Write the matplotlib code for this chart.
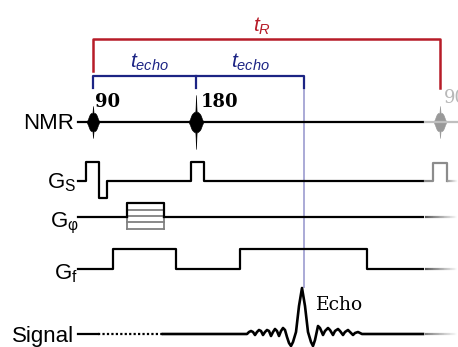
import numpy as np
import matplotlib.pyplot as plt
from matplotlib.collections import LineCollection

plt.rcParams['mathtext.fontset'] = 'custom'
plt.rcParams['mathtext.rm'] = 'Liberation Sans'
plt.rcParams['mathtext.it'] = 'Liberation Sans:italic'

# timing of the sequence (horizontal units)
t_start, t_stop = 78, 423
t_90, t_180, t_echo, t_rep = 93, 196, 304, 440

# channel baselines
y_nmr, y_gs, y_gp, y_gf, y_sig = 122, 181, 217, 269, 334

# RF pulse envelopes (offset from pulse centre, half amplitude)
rf90_dt = [-6, -5, -4, -3, -2, -1.2, -0.6, 0, 0.6, 1.2, 2, 3, 4, 5, 6]
rf90_amp = [1, 3, 6, 8, 9, 9, 9, 16, 9, 9, 9, 8, 6, 3, 1]
rf180_dt = [-7, -6, -5, -4, -3, -2, -1.2, -0.6, 0, 0.6, 1.2, 2, 3, 4, 5, 6, 7]
rf180_amp = [1, 3, 6, 8, 9, 10, 10, 11, 27, 11, 10, 10, 9, 8, 6, 3, 1]

# slice select gradient
gs_t = [t_start, 86, 86, 99, 99, 107, 107, 191, 191, 204, 204, t_stop]
gs_a = [0, 0, 19, 19, -17, -17, 0, 0, 19, 19, 0, 0]
# phase encode table
gp_t0, gp_t1 = 127, 164
gp_steps = [14, 7.5, 1, -5, -12]
# frequency (readout) gradient
gf_t = [t_start, 113, 113, 176, 176, 240, 240, 367, 367, t_stop]
gf_a = [0, 0, 20, 20, 0, 0, 20, 20, 0, 0]
# echo signal
echo_t = [t_start, 247, 249, 251, 253, 255, 257, 259, 261, 263, 265, 267, 269,
          271, 273, 275, 277, 279, 281, 283, 285, 287, 289, 291, 293, 296, 299,
          302, 305, 308, 311, 313, 315, 318, 320, 323, 325, 328, 330, 333, 335,
          338, 340, 343, 345, 348, 350, 353, 355, 358, 360, 362, t_stop]
echo_a = [0, 0, 2, 3, 2, -1, 2, 4, 3, -1, 2, 4, 3,
          -2, 2, 5, 3, -2, 3, 6, 4, -3, -9, -12, -8, 2, 28,
          46, 28, 2, -8, -12, -6, 8, 6, -1, 3, 6, 4, -1, 3,
          5, 3, -1, 2, 4, 2, -1, 1, 2, 1, 0, 0]
dotted_t = (98, 163)

red = '#b71c28'
blue = '#1c2484'
lav = '#aaaad6'
lw = 1.6

fig = plt.figure(figsize=(4.58, 3.47), dpi=100)
ax = fig.add_axes([0, 0, 1, 1])
ax.set_xlim(0, 458)
ax.set_ylim(347, 0)
ax.axis('off')


def fade(ax, y, x0, x1, c0=0.35, dotted=False):
    xs = np.linspace(x0, x1, 40)
    segs = [[(xs[i], y), (xs[i + 1], y)] for i in range(len(xs) - 1)]
    cols = [str(c0 + (1 - c0) * i / (len(segs) - 1)) for i in range(len(segs))]
    lc = LineCollection(segs, colors=cols, linewidths=lw,
                        linestyles=(0, (1, 1)) if dotted else 'solid')
    ax.add_collection(lc)


def rf(ax, tc, dt, amp, color):
    x = np.array(dt) + tc
    a = np.array(amp)
    ax.fill_between(x, y_nmr - a, y_nmr + a, color=color, lw=0.4, edgecolor=color)


# brackets
ax.plot([t_90, t_90, t_rep, t_rep], [71, 39, 39, 88], color=red, lw=1.8)
ax.plot([t_90, t_90, t_echo, t_echo], [88, 76, 76, 88], color=blue, lw=1.6)
ax.plot([t_180, t_180], [76, 88], color=blue, lw=1.6)
ax.plot([t_echo, t_echo], [88, 287], color=lav, lw=1.4, zorder=0)
ax.text(262, 26, r'$t_R$', color=red, fontsize=15, ha='center', va='center')
ax.text(150, 62, r'$t_{echo}$', color=blue, fontsize=15, ha='center', va='center')
ax.text(251, 62, r'$t_{echo}$', color=blue, fontsize=15, ha='center', va='center')

# NMR
ax.plot([t_start, t_stop], [y_nmr, y_nmr], color='black', lw=lw)
rf(ax, t_90, rf90_dt, rf90_amp, 'black')
rf(ax, t_180, rf180_dt, rf180_amp, 'black')
ax.text(95, 107, '90', family='DejaVu Serif', fontsize=13, fontweight='bold')
ax.text(201, 107, '180', family='DejaVu Serif', fontsize=13, fontweight='bold')
ax.plot([425, 458], [y_nmr, y_nmr], color='0.75', lw=lw)
rf(ax, t_rep, rf90_dt, rf90_amp, '0.6')
ax.text(444, 103, '90', family='DejaVu Serif', fontsize=13, color='0.72', clip_on=True)

# gradients
ax.plot(gs_t, [y_gs - a for a in gs_a], color='black', lw=lw)
ax.plot([425, 433, 433, 447, 447], [y_gs, y_gs, y_gs - 18, y_gs - 18, y_gs], color='0.55', lw=lw)
fade(ax, y_gs, 447, 458, c0=0.6)

ax.plot([t_start, gp_t0], [y_gp, y_gp], color='black', lw=lw)
ax.plot([gp_t1, t_stop], [y_gp, y_gp], color='black', lw=lw)
for s in gp_steps[1:]:
    ax.plot([gp_t0, gp_t1], [y_gp - s, y_gp - s], color='0.5', lw=1.3)
ax.plot([gp_t0, gp_t0], [y_gp - gp_steps[0], y_gp - gp_steps[-1]], color='0.5', lw=1.3)
ax.plot([gp_t1, gp_t1], [y_gp - gp_steps[0], y_gp - gp_steps[-1]], color='0.5', lw=1.3)
ax.plot([gp_t0, gp_t0, gp_t1, gp_t1], [y_gp, y_gp - gp_steps[0], y_gp - gp_steps[0], y_gp],
        color='black', lw=lw)
fade(ax, y_gp, 425, 458)

ax.plot(gf_t, [y_gf - a for a in gf_a], color='black', lw=lw)
fade(ax, y_gf, 425, 458)

# signal
et = np.array(echo_t)
ea = np.array(echo_a)
ax.plot([t_start, dotted_t[0]], [y_sig, y_sig], color='black', lw=lw)
ax.plot(list(dotted_t), [y_sig, y_sig], color='black', lw=lw, ls=(0, (1, 1)))
sel = et >= dotted_t[1]
ax.plot(np.r_[dotted_t[1], et[sel]], np.r_[y_sig, y_sig - ea[sel]], color='black', lw=1.9,
        solid_joinstyle='round')
fade(ax, y_sig, 425, 458, c0=0.5, dotted=True)
ax.text(316, 310, 'Echo', family='DejaVu Serif', fontsize=13.5)

# channel labels
lab = dict(family='Liberation Sans', fontsize=16, ha='right', va='baseline')
ax.text(74, 129, 'NMR', **lab)
ax.text(76, 188, r'G$_\mathrm{S}$', **lab)
ax.text(79, 227, r'G$_\mathrm{φ}$', **lab)
ax.text(78, 279, r'G$_\mathrm{f}$', **lab)
ax.text(74, 342, 'Signal', **lab)

fig.savefig('out.png', dpi=100)
